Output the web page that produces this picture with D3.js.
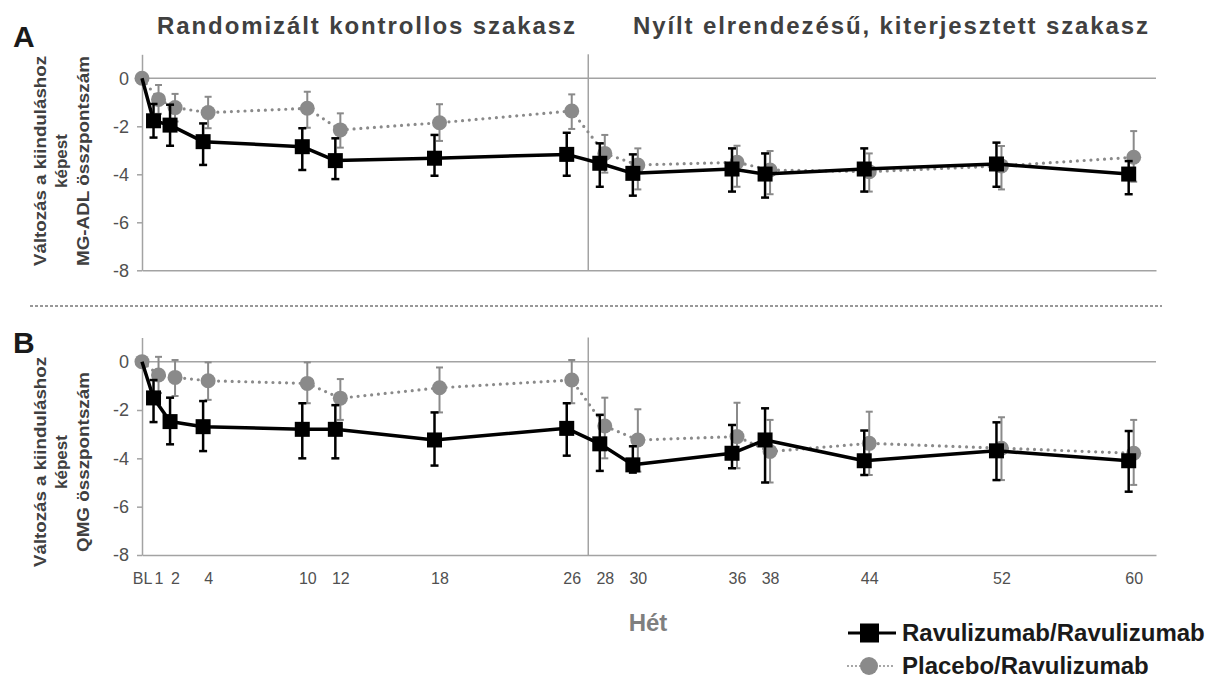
<!DOCTYPE html>
<html>
<head>
<meta charset="utf-8">
<script src="https://cdn.jsdelivr.net/npm/d3@7"></script>
<style>
  html, body { margin: 0; padding: 0; background: #fff; }
  svg { display: block; font-family: "Liberation Sans", Arial, sans-serif; }
</style>
</head>
<body>
<script>
// ---------- DATA ----------
const weeks = [0, 1, 2, 4, 10, 12, 18, 26, 28, 30, 36, 38, 44, 52, 60];
const weekLabels = ["BL", "1", "2", "4", "10", "12", "18", "26", "28", "30", "36", "38", "44", "52", "60"];
const yTicks = [0, -2, -4, -6, -8];
const seriesNames = ["Ravulizumab/Ravulizumab", "Placebo/Ravulizumab"];

// Panel A: MG-ADL
const adlRav   = [0, -1.77, -1.95, -2.64, -2.85, -3.43, -3.33, -3.17, -3.54, -3.96, -3.78, -3.99, -3.78, -3.57, -3.99];
const adlRavLo = [null, -2.47, -2.81, -3.61, -3.82, -4.20, -4.06, -4.06, -4.52, -4.89, -4.72, -4.97, -4.72, -4.52, -4.83];
const adlRavHi = [null, -1.07, -1.10, -1.88, -2.08, -2.50, -2.36, -2.27, -2.71, -3.17, -2.92, -3.13, -2.92, -2.68, -3.45];
const adlPla   = [0, -0.88, -1.22, -1.43, -1.25, -2.15, -1.85, -1.36, -3.13, -3.61, -3.50, -3.82, -3.89, -3.65, -3.29];
const adlPlaLo = [null, -1.48, -1.80, -2.08, -2.06, -2.89, -2.61, -2.11, -3.93, -4.63, -4.52, -4.83, -4.72, -4.63, -4.31];
const adlPlaHi = [null, -0.28, -0.65, -0.77, -0.56, -1.46, -1.08, -0.67, -2.36, -2.92, -2.81, -3.03, -3.13, -2.82, -2.20];

// Panel B: QMG
const qmgRav   = [0, -1.50, -2.48, -2.69, -2.80, -2.80, -3.24, -2.76, -3.40, -4.27, -3.79, -3.24, -4.10, -3.69, -4.10];
const qmgRavLo = [null, -2.50, -3.42, -3.70, -4.00, -4.00, -4.30, -3.89, -4.52, -4.59, -4.41, -5.00, -4.69, -4.90, -5.38];
const qmgRavHi = [null, -0.76, -1.49, -1.63, -1.72, -1.80, -2.10, -1.72, -2.20, -3.50, -2.62, -1.93, -2.85, -2.51, -2.87];
const qmgPla   = [0, -0.55, -0.65, -0.79, -0.90, -1.51, -1.08, -0.76, -2.66, -3.24, -3.10, -3.72, -3.38, -3.58, -3.79];
const qmgPlaLo = [null, -1.30, -1.42, -1.58, -1.72, -2.41, -2.10, -1.72, -4.00, -4.55, -4.41, -5.00, -4.69, -4.90, -5.10];
const qmgPlaHi = [null, 0.20, 0.07, -0.03, -0.03, -0.72, -0.24, 0.07, -1.49, -1.97, -1.70, -2.41, -2.07, -2.30, -2.41];

const periodTitles = ["Randomizált kontrollos szakasz", "Nyílt elrendezésű, kiterjesztett szakasz"];
const xTitle = "Hét";
const panelA = { letter: "A", yLines: ["Változás a kiinduláshoz", "képest", "MG-ADL összpontszám"],
  rav: adlRav, ravLo: adlRavLo, ravHi: adlRavHi, pla: adlPla, plaLo: adlPlaLo, plaHi: adlPlaHi };
const panelB = { letter: "B", yLines: ["Változás a kiinduláshoz", "képest", "QMG összpontszám"],
  rav: qmgRav, ravLo: qmgRavLo, ravHi: qmgRavHi, pla: qmgPla, plaLo: qmgPlaLo, plaHi: qmgPlaHi };

// ---------- LAYOUT ----------
const W = 1206, H = 678;
const svg = d3.select("body").append("svg").attr("width", W).attr("height", H);

const x = d3.scaleLinear().domain([0, 61.35]).range([142, 1156]);
const divideWeek = 27;
const ravOffset = -5;
const axisColor = "#a3a3a3";
const textColor = "#404040";
const grayColor = "#8a8a8a";

const layouts = [
  { panel: panelA, yRange: [270.3, 54.3], yLabelCenter: 161, yLineLens: [210, null, 210], letterY: 47, showX: false },
  { panel: panelB, yRange: [555, 337.5], yLabelCenter: 462, yLineLens: [210, null, 180], letterY: 353, showX: true }
];

layouts.forEach(L => {
  const p = L.panel;
  const y = d3.scaleLinear().domain([-8, 1]).range(L.yRange);
  const g = svg.append("g");

  // y axis
  const ya = g.append("g").attr("transform", `translate(${x(0)},0)`)
    .call(d3.axisLeft(y).tickValues(yTicks).tickSize(5).tickSizeOuter(0).tickPadding(8).tickFormat(d => String(d)));
  ya.select(".domain").attr("stroke", axisColor).attr("stroke-width", 1.5);
  ya.selectAll(".tick line").attr("stroke", axisColor).attr("stroke-width", 1.5);
  ya.selectAll(".tick text").attr("fill", "#505050").style("font-size", "18px")
    .style("font-family", "'Liberation Sans', Arial, sans-serif");

  // x axis at -8
  const xa = g.append("g").attr("transform", `translate(0,${y(-8)})`)
    .call(d3.axisBottom(x).tickValues(weeks).tickSize(0).tickSizeOuter(0).tickPadding(18)
      .tickFormat((d, i) => L.showX ? weekLabels[i] : ""));
  xa.select(".domain").attr("stroke", axisColor).attr("stroke-width", 1.5);
  xa.selectAll(".tick text").attr("fill", "#505050").style("font-size", "16px")
    .style("font-family", "'Liberation Sans Narrow', 'Arial Narrow', 'Liberation Sans', Arial, sans-serif");

  // zero line
  g.append("line").attr("x1", x(0)).attr("x2", x.range()[1]).attr("y1", y(0)).attr("y2", y(0))
    .attr("stroke", axisColor).attr("stroke-width", 1.5);
  // period divider
  g.append("line").attr("x1", x(divideWeek)).attr("x2", x(divideWeek)).attr("y1", y(1)).attr("y2", y(-8))
    .attr("stroke", axisColor).attr("stroke-width", 1.5);

  // y label lines
  const lineX = [46, 67, 89];
  p.yLines.forEach((t, i) => {
    const tx = g.append("text")
      .attr("transform", `translate(${lineX[i]},${L.yLabelCenter}) rotate(-90)`)
      .attr("text-anchor", "middle")
      .attr("fill", textColor).style("font-size", "17px").style("font-weight", "bold")
      .text(t);
    if (L.yLineLens[i]) tx.attr("textLength", L.yLineLens[i]).attr("lengthAdjust", "spacingAndGlyphs");
  });

  // panel letter
  svg.append("text").attr("x", 13).attr("y", L.letterY).attr("fill", "#1a1a1a")
    .style("font-size", "30px").style("font-weight", "bold").text(p.letter);

  const mk = (vals, lo, hi) => weeks.map((w, i) => ({ w, i, v: vals[i], lo: lo[i], hi: hi[i] }));
  const ravData = mk(p.rav, p.ravLo, p.ravHi);
  const plaData = mk(p.pla, p.plaLo, p.plaHi);
  const xr = d => x(d.w) + (d.w === 0 ? 0 : ravOffset);
  const xp = d => x(d.w);

  // Placebo series (below)
  g.append("path").datum(plaData)
    .attr("d", d3.line().x(xp).y(d => y(d.v)))
    .attr("fill", "none").attr("stroke", grayColor).attr("stroke-width", 3.2)
    .attr("stroke-dasharray", "0 6.8").attr("stroke-linecap", "round");
  const pe = g.append("g").selectAll("g").data(plaData.filter(d => d.lo !== null)).join("g");
  pe.append("line").attr("x1", xp).attr("x2", xp).attr("y1", d => y(d.lo)).attr("y2", d => y(d.hi))
    .attr("stroke", grayColor).attr("stroke-width", 2);
  [ "lo", "hi" ].forEach(k => pe.append("line")
    .attr("x1", d => xp(d) - 3.5).attr("x2", d => xp(d) + 3.5)
    .attr("y1", d => y(d[k])).attr("y2", d => y(d[k]))
    .attr("stroke", grayColor).attr("stroke-width", 2));
  g.append("g").selectAll("circle").data(plaData).join("circle")
    .attr("cx", xp).attr("cy", d => y(d.v)).attr("r", 7.5).attr("fill", grayColor);

  // Ravulizumab series (on top)
  g.append("path").datum(ravData)
    .attr("d", d3.line().x(xr).y(d => y(d.v)))
    .attr("fill", "none").attr("stroke", "#000").attr("stroke-width", 3.5).attr("stroke-linejoin", "round");
  const re = g.append("g").selectAll("g").data(ravData.filter(d => d.lo !== null)).join("g");
  re.append("line").attr("x1", xr).attr("x2", xr).attr("y1", d => y(d.lo)).attr("y2", d => y(d.hi))
    .attr("stroke", "#000").attr("stroke-width", 2.5);
  [ "lo", "hi" ].forEach(k => re.append("line")
    .attr("x1", d => xr(d) - 4).attr("x2", d => xr(d) + 4)
    .attr("y1", d => y(d[k])).attr("y2", d => y(d[k]))
    .attr("stroke", "#000").attr("stroke-width", 2.5));
  g.append("g").selectAll("rect").data(ravData.filter(d => d.w !== 0)).join("rect")
    .attr("x", d => xr(d) - 7.5).attr("y", d => y(d.v) - 7.5).attr("width", 15).attr("height", 15)
    .attr("fill", "#000");
});

// period titles
svg.append("text").attr("x", 157).attr("y", 34).attr("fill", textColor)
  .attr("textLength", 418).attr("lengthAdjust", "spacing")
  .style("font-size", "24px").style("font-weight", "bold").text(periodTitles[0]);
svg.append("text").attr("x", 633).attr("y", 34).attr("fill", textColor)
  .attr("textLength", 515).attr("lengthAdjust", "spacing")
  .style("font-size", "24px").style("font-weight", "bold").text(periodTitles[1]);

// separator
svg.append("line").attr("x1", 30).attr("x2", 1162).attr("y1", 306).attr("y2", 306)
  .attr("stroke", "#333").attr("stroke-width", 1).attr("stroke-dasharray", "3 2");

// x title
svg.append("text").attr("x", 648).attr("y", 631).attr("text-anchor", "middle")
  .attr("fill", "#7f7f7f").style("font-size", "24px").style("font-weight", "bold").text(xTitle);

// legend
const lg = svg.append("g");
lg.append("line").attr("x1", 848).attr("x2", 896).attr("y1", 633).attr("y2", 633)
  .attr("stroke", "#000").attr("stroke-width", 3);
lg.append("rect").attr("x", 860).attr("y", 623.5).attr("width", 19).attr("height", 19).attr("fill", "#000");
lg.append("text").attr("x", 902).attr("y", 641).attr("fill", "#1a1a1a")
  .style("font-size", "24px").style("font-weight", "bold").text(seriesNames[0]);
lg.append("line").attr("x1", 848).attr("x2", 896).attr("y1", 666).attr("y2", 666)
  .attr("stroke", grayColor).attr("stroke-width", 2).attr("stroke-dasharray", "0 4").attr("stroke-linecap", "round");
lg.append("circle").attr("cx", 869).attr("cy", 666).attr("r", 9).attr("fill", grayColor);
lg.append("text").attr("x", 902).attr("y", 673.5).attr("fill", "#1a1a1a")
  .style("font-size", "24px").style("font-weight", "bold").text(seriesNames[1]);
</script>
</body>
</html>
